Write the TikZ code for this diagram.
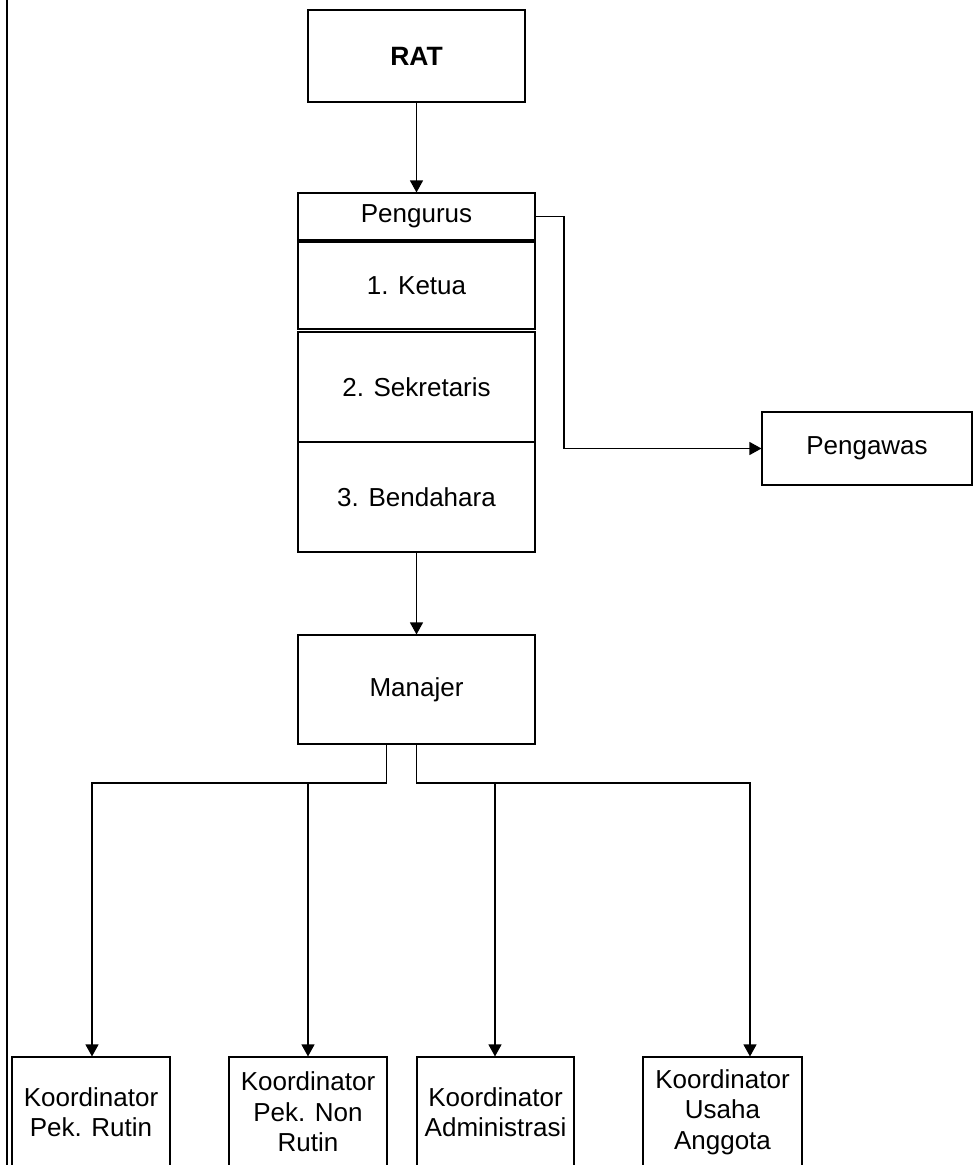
\documentclass[tikz,border=0pt]{standalone}
\usepackage{fontspec}
\setmainfont{Liberation Sans}
\usetikzlibrary{arrows.meta,calc}
\begin{document}
\begin{tikzpicture}[x=1pt,y=-1pt,
  box/.style={draw=black,line width=1.1pt,inner sep=0pt,align=center,
    font=\fontsize{26}{30.5}\selectfont},
  arr/.style={draw=black,line width=1.1pt,-{Triangle[length=12pt,width=13pt]}},
  ln/.style={draw=black,line width=1.1pt}]
\clip (0,0) rectangle (974,1165);
\fill[white] (0,0) rectangle (974,1165);
\draw[line width=2pt] (7,0) -- (7,1165);
% top chain
\node[box,minimum width=217pt,minimum height=92pt,font=\fontsize{26.5}{30}\selectfont\bfseries] (rat) at (416.5,56) {RAT};
\node[box,minimum width=237pt,minimum height=47pt] (peng) at (416.5,216.5) {Pengurus};
\node[box,minimum width=237pt,minimum height=87pt] (ketua) at (416.5,285.5) {1. Ketua};
\node[box,minimum width=237pt,minimum height=110pt] (sekr) at (416.5,387) {2. Sekretaris};
\node[box,minimum width=237pt,minimum height=110pt] (bend) at (416.5,497) {3. Bendahara};
\node[box,minimum width=237pt,minimum height=109pt] (man) at (416.5,689.5) {Manajer};
\node[box,minimum width=210pt,minimum height=73pt] (pgw) at (867,448.5) {Pengawas};
% bottom boxes
\node[box,minimum width=158pt,minimum height=110pt] (k1) at (91,1112) {Koordinator\\Pek. Rutin};
\node[box,minimum width=158pt,minimum height=110pt] (k2) at (308,1112) {Koordinator\\Pek. Non\\Rutin};
\node[box,minimum width=157pt,minimum height=110pt] (k3) at (495.5,1112) {Koordinator\\Administrasi};
\node[box,minimum width=159pt,minimum height=110pt] (k4) at (722.5,1112) {Koordinator\\Usaha\\Anggota};
% connectors
\draw[arr] (rat.south) -- (peng.north);
\coordinate (pv) at (564,448.5);
\draw[arr] (peng.east) -| (pv) -- (pgw.west);
\draw[arr] (bend.south) -- (man.north);
\coordinate (mL) at ($(man.south)+(-30,0)$);
\coordinate (busL) at (92,783);
\coordinate (busR) at (750,783);
\coordinate (tap2) at (308,783);
\coordinate (tap3) at (495,783);
\draw[arr] (mL) |- (busL) -- (busL |- k1.north);
\draw[arr] (tap2) -- (tap2 |- k2.north);
\draw[arr] (man.south) |- (busR) -- (busR |- k4.north);
\draw[arr] (tap3) -- (tap3 |- k3.north);
\end{tikzpicture}
\end{document}
